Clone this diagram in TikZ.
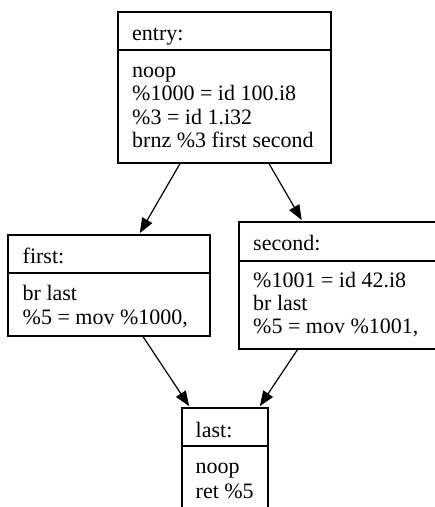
\documentclass[tikz,border=0pt]{standalone}
\usepackage{fontspec}
\setmainfont{Liberation Serif}
\usetikzlibrary{arrows.meta}

\begin{document}
\begin{tikzpicture}[x=1pt, y=-1pt,
  block/.style={draw, line width=1.2pt, rectangle, inner sep=0pt},
  code/.style={anchor=base west, inner sep=0pt, font=\fontsize{22}{23}\selectfont},
  flow/.style={line width=1.2pt, -{Triangle[length=15pt,width=11.5pt]}, shorten >=1.5pt}]
  \useasboundingbox[fill=white] (0,0) rectangle (435,507);

  % basic blocks (outer frames)
  \node[block, minimum width=213pt, minimum height=151pt] (entry)  at (224.5,87.5) {};
  \node[block, minimum width=202pt, minimum height=101pt] (first)  at (109,285.5) {};
  \node[block, minimum width=203pt, minimum height=127pt] (second) at (340.5,285.5) {};
  \node[block, minimum width=86pt,  minimum height=116pt] (last)   at (225,466) {};

  % header separators
  \draw[line width=1.2pt] (entry.west |- 0,50)   -- (entry.east |- 0,50);
  \draw[line width=1.2pt] (first.west |- 0,273)  -- (first.east |- 0,273);
  \draw[line width=1.2pt] (second.west |- 0,261) -- (second.east |- 0,261);
  \draw[line width=1.2pt] (last.west |- 0,446)   -- (last.east |- 0,446);

  % entry
  \node[code] (entry-h)  at (132,40)    {entry:};
  \node[code] (entry-l1) at (132,77)    {noop};
  \node[code] (entry-l2) at (132,100.5) {\%1000 = id 100.i8};
  \node[code] (entry-l3) at (132,124)   {\%3 = id 1.i32};
  \node[code] (entry-l4) at (132,147)   {brnz \%3 first second};

  % first
  \node[code] (first-h)  at (22.5,263) {first:};
  \node[code] (first-l1) at (22.5,300) {br last};
  \node[code] (first-l2) at (22.5,324) {\%5 = mov \%1000,};

  % second
  \node[code] (second-h)  at (253,250) {second:};
  \node[code] (second-l1) at (253,287) {\%1001 = id 42.i8};
  \node[code] (second-l2) at (253,310) {br last};
  \node[code] (second-l3) at (253,333) {\%5 = mov \%1001,};

  % last
  \node[code] (last-h)  at (195.5,437) {last:};
  \node[code] (last-l1) at (195.5,473) {noop};
  \node[code] (last-l2) at (195.5,498) {ret \%5};

  % control flow edges
  \draw[flow] ([xshift=-44.5pt]entry.south) -- ([xshift=30pt]first.north);
  \draw[flow] ([xshift=44.5pt]entry.south)  -- ([xshift=-38pt]second.north);
  \draw[flow] ([xshift=34pt]first.south)    -- ([xshift=-35pt]last.north);
  \draw[flow] ([xshift=-43pt]second.south)  -- ([xshift=34pt]last.north);
\end{tikzpicture}
\end{document}
